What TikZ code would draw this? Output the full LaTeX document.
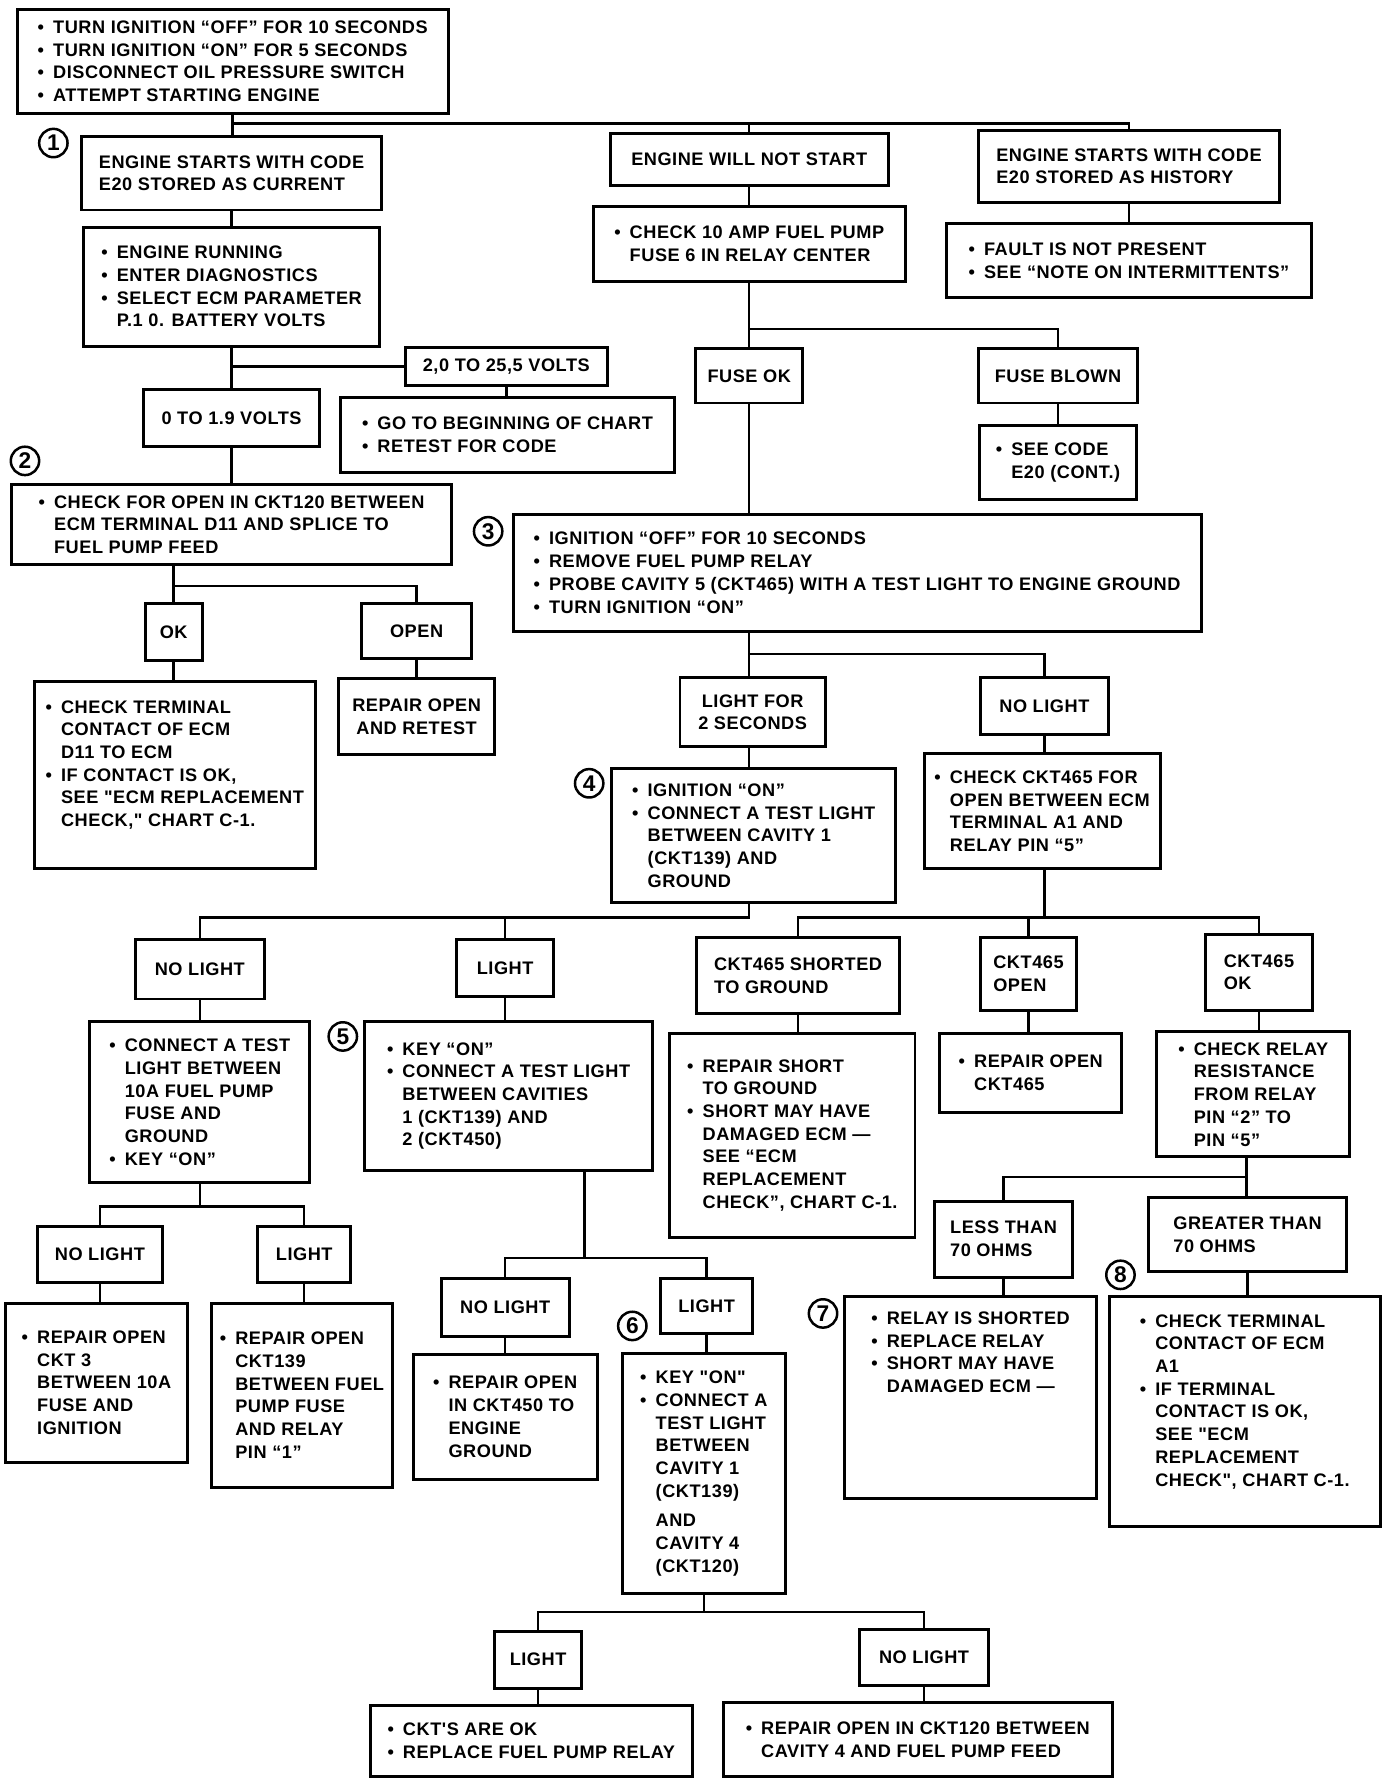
\documentclass[tikz,border=0pt]{standalone}
\usepackage{fontspec}
\setmainfont{Liberation Sans}
\newfontfamily\chartfont{Liberation Sans}[LetterSpace=3]
\usetikzlibrary{positioning}
\newcommand{\bul}{\textbullet\hspace{4pt}}
\newcommand{\ind}{\hphantom{\textbullet}\hspace{4pt}}
\tikzset{
  box/.style={draw, line width=1.3pt, align=left, inner sep=2pt, font=\fontsize{8}{10}\selectfont\chartfont\bfseries},
  cbox/.style={box, align=center},
  link/.style={line width=1.1pt},
  stepno/.style={circle, draw, line width=1.1pt, inner sep=0pt, minimum size=12.5pt, font=\fontsize{10}{10}\selectfont\bfseries}
}

\begin{document}
\begin{tikzpicture}[x=0.5pt, y=-0.5pt]
    \useasboundingbox (0,0) rectangle (1226,1568);
    % first tests
    \node[box, minimum width=190pt, minimum height=46pt] (start) at (205,54) {\bul TURN IGNITION “OFF” FOR 10 SECONDS\\ \bul TURN IGNITION “ON” FOR 5 SECONDS\\ \bul DISCONNECT OIL PRESSURE SWITCH\\ \bul ATTEMPT STARTING ENGINE};
    \node[box, minimum width=132pt, minimum height=32.5pt] (current) at (204,152.5) {ENGINE STARTS WITH CODE\\E20 STORED AS CURRENT};
    \node[box, minimum width=122.5pt, minimum height=22.5pt] (nostart) at (660,140.5) {ENGINE WILL NOT START};
    \node[box, minimum width=132.5pt, minimum height=31.5pt] (history) at (994.5,146.5) {ENGINE STARTS WITH CODE\\E20 STORED AS HISTORY};
    \node[box, minimum width=130.5pt, minimum height=52.5pt] (running) at (204,252.5) {\bul ENGINE RUNNING\\ \bul ENTER DIAGNOSTICS\\ \bul SELECT ECM PARAMETER\\ \ind P.1 0. BATTERY VOLTS};
    \node[box, minimum width=137.5pt, minimum height=33pt] (fusechk) at (660,215) {\bul CHECK 10 AMP FUEL PUMP\\ \ind FUSE 6 IN RELAY CENTER};
    \node[box, minimum width=160.5pt, minimum height=32.5pt] (nofault) at (994.5,229.5) {\bul FAULT IS NOT PRESENT\\ \bul SEE “NOTE ON INTERMITTENTS”};
    % battery volts
    \node[box, minimum width=89pt, minimum height=17pt] (highv) at (446,323) {2,0 TO 25,5 VOLTS};
    \node[box, minimum width=77.5pt, minimum height=25pt] (lowv) at (204,368) {0 TO 1.9 VOLTS};
    \node[box, minimum width=147pt, minimum height=33pt] (retest) at (447,383) {\bul GO TO BEGINNING OF CHART\\ \bul RETEST FOR CODE};
    \node[box, minimum width=194pt, minimum height=35pt] (ckt120) at (204,462) {\bul CHECK FOR OPEN IN CKT120 BETWEEN\\ \ind ECM TERMINAL D11 AND SPLICE TO\\ \ind FUEL PUMP FEED};
    \node[cbox, minimum width=25pt, minimum height=25pt] (okA) at (153,557) {OK};
    \node[cbox, minimum width=48.5pt, minimum height=24pt] (openA) at (367,556) {OPEN};
    \node[box, minimum width=124pt, minimum height=82.5pt] (termchk) at (154,682.5) {\bul CHECK TERMINAL\\ \ind CONTACT OF ECM\\ \ind D11 TO ECM\\ \bul IF CONTACT IS OK,\\ \ind SEE "ECM REPLACEMENT\\ \ind CHECK," CHART C-1.\\ \mbox{}};
    \node[cbox, minimum width=68.5pt, minimum height=33.5pt] (repairA) at (367,631.5) {REPAIR OPEN\\AND RETEST};
    % fuse
    \node[cbox, minimum width=47pt, minimum height=24pt] (fuseok) at (660,331) {FUSE OK};
    \node[cbox, minimum width=70pt, minimum height=24pt] (blown) at (932,331) {FUSE BLOWN};
    \node[box, minimum width=69.5pt, minimum height=32.5pt] (seecode) at (932,407.5) {\bul SEE CODE\\ \ind E20 (CONT.)};
    \node[box, minimum width=303pt, minimum height=51.5pt] (relay) at (755,504.5) {\bul IGNITION “OFF” FOR 10 SECONDS\\ \bul REMOVE FUEL PUMP RELAY\\ \bul PROBE CAVITY 5 (CKT465) WITH A TEST LIGHT TO ENGINE GROUND\\ \bul TURN IGNITION “ON”};
    \node[cbox, minimum width=64pt, minimum height=30.5pt] (light2s) at (663,627.5) {LIGHT FOR\\2 SECONDS};
    \node[cbox, minimum width=56.5pt, minimum height=25pt] (nolightA) at (920,622) {NO LIGHT};
    \node[box, minimum width=125pt, minimum height=59pt] (cav1) at (664,736) {\bul IGNITION “ON”\\ \bul CONNECT A TEST LIGHT\\ \ind BETWEEN CAVITY 1\\ \ind (CKT139) AND\\ \ind GROUND};
    \node[box, minimum width=104pt, minimum height=50.5pt] (ckt465) at (918,714.5) {\bul CHECK CKT465 FOR\\ \ind OPEN BETWEEN ECM\\ \ind TERMINAL A1 AND\\ \ind RELAY PIN “5”};
    % third row
    \node[cbox, minimum width=57pt, minimum height=26pt] (nolightB) at (176,854) {NO LIGHT};
    \node[cbox, minimum width=42.5pt, minimum height=25pt] (lightB) at (445,853) {LIGHT};
    \node[box, minimum width=89.5pt, minimum height=33.5pt] (shorted) at (703,859.5) {CKT465 SHORTED\\TO GROUND};
    \node[box, minimum width=42pt, minimum height=32pt] (open465) at (906,858) {CKT465\\OPEN};
    \node[box, minimum width=47pt, minimum height=33.5pt] (ok465) at (1109,856.5) {CKT465\\OK};
    \node[box, minimum width=97pt, minimum height=71pt] (fusegnd) at (176,971) {\bul CONNECT A TEST\\ \ind LIGHT BETWEEN\\ \ind 10A FUEL PUMP\\ \ind FUSE AND\\ \ind GROUND\\ \bul KEY “ON”};
    \node[box, minimum width=127pt, minimum height=65.5pt] (cav12) at (448,965.5) {\bul KEY “ON”\\ \bul CONNECT A TEST LIGHT\\ \ind BETWEEN CAVITIES\\ \ind 1 (CKT139) AND\\ \ind 2 (CKT450)};
    \node[box, minimum width=108pt, minimum height=90pt] (repshort) at (698,1000) {\bul REPAIR SHORT\\ \ind TO GROUND\\ \bul SHORT MAY HAVE\\ \ind DAMAGED ECM —\\ \ind SEE “ECM\\ \ind REPLACEMENT\\ \ind CHECK”, CHART C-1.};
    \node[box, minimum width=80pt, minimum height=35pt] (rep465) at (908,945) {\bul REPAIR OPEN\\ \ind CKT465};
    \node[box, minimum width=85pt, minimum height=55pt] (relres) at (1104,964) {\bul CHECK RELAY\\ \ind RESISTANCE\\ \ind FROM RELAY\\ \ind PIN “2” TO\\ \ind PIN “5”};
    % fourth row
    \node[cbox, minimum width=55pt, minimum height=25pt] (nolightC) at (88,1105) {NO LIGHT};
    \node[cbox, minimum width=41pt, minimum height=25pt] (lightC) at (268,1105) {LIGHT};
    \node[box, minimum width=80pt, minimum height=70pt] (rep3) at (85,1218) {\bul REPAIR OPEN\\ \ind CKT 3\\ \ind BETWEEN 10A\\ \ind FUSE AND\\ \ind IGNITION};
    \node[box, minimum width=80pt, minimum height=81pt] (rep139) at (266,1229) {\bul REPAIR OPEN\\ \ind CKT139\\ \ind BETWEEN FUEL\\ \ind PUMP FUSE\\ \ind AND RELAY\\ \ind PIN “1”};
    \node[cbox, minimum width=56.5pt, minimum height=25.5pt] (nolightD) at (445,1151.5) {NO LIGHT};
    \node[cbox, minimum width=40.5pt, minimum height=24.5pt] (lightD) at (622.5,1150.5) {LIGHT};
    \node[box, minimum width=81pt, minimum height=55pt] (rep450) at (445,1248) {\bul REPAIR OPEN\\ \ind IN CKT450 TO\\ \ind ENGINE\\ \ind GROUND};
    \node[box, minimum width=72pt, minimum height=106pt] (cav14) at (620,1298) {\bul KEY "ON"\\ \bul CONNECT A\\ \ind TEST LIGHT\\ \ind BETWEEN\\ \ind CAVITY 1\\ \ind (CKT139)\\[3pt] \ind AND\\ \ind CAVITY 4\\ \ind (CKT120)};
    \node[cbox, minimum width=38pt, minimum height=25pt] (lightE) at (474,1462) {LIGHT};
    \node[cbox, minimum width=56.5pt, minimum height=25pt] (nolightE) at (814,1460) {NO LIGHT};
    \node[box, minimum width=142pt, minimum height=31.5pt] (replace) at (468,1533.5) {\bul CKT'S ARE OK\\ \bul REPLACE FUEL PUMP RELAY};
    \node[box, minimum width=171.5pt, minimum height=32.5pt] (rep120) at (808.5,1532.5) {\bul REPAIR OPEN IN CKT120 BETWEEN\\ \ind CAVITY 4 AND FUEL PUMP FEED};
    \node[box, minimum width=61pt, minimum height=33.5pt] (less70) at (884,1091.5) {LESS THAN\\70 OHMS};
    \node[box, minimum width=87pt, minimum height=32.5pt] (more70) at (1099,1087.5) {GREATER THAN\\70 OHMS};
    \node[box, minimum width=111pt, minimum height=89pt] (shortrel) at (855,1231) {\bul RELAY IS SHORTED\\ \bul REPLACE RELAY\\ \bul SHORT MAY HAVE\\ \ind DAMAGED ECM —\\ \mbox{}\\ \mbox{}\\ \mbox{}\\ \mbox{}};
    \node[box, minimum width=119.5pt, minimum height=101.5pt] (termA1) at (1096.5,1243.5) {\bul CHECK TERMINAL\\ \ind CONTACT OF ECM\\ \ind A1\\ \bul IF TERMINAL\\ \ind CONTACT IS OK,\\ \ind SEE "ECM\\ \ind REPLACEMENT\\ \ind CHECK", CHART C-1.\\ \mbox{}};
    % step numbers
    \node[stepno] (s1) at (47,126) {1};
    \node[stepno] (s2) at (22,406) {2};
    \node[stepno] (s3) at (430,468) {3};
    \node[stepno] (s4) at (519,690) {4};
    \node[stepno] (s5) at (302,913) {5};
    \node[stepno] (s6) at (557,1168) {6};
    \node[stepno] (s7) at (725,1157) {7};
    \node[stepno] (s8) at (987,1123) {8};
    % connectors
    \coordinate (t1) at (205,109);
    \draw[link] (start.south) -- (start.south |- current.north);
    \draw[link] (t1) -| (history.north);
    \draw[link] (nostart.north) -- (nostart.north |- t1);
    \draw[link] (current.south) -- (current.south |- running.north);
    \draw[link] (nostart.south) -- (nostart.south |- fusechk.north);
    \draw[link] (history.south) -- (history.south |- nofault.north);
    \draw[link] (running.south) -- (running.south |- lowv.north);
    \draw[link] (running.south |- highv.west) -- (highv.west);
    \draw[link] (highv.south) -- (highv.south |- retest.north);
    \draw[link] (lowv.south) -- (lowv.south |- ckt120.north);
    \coordinate (t2) at (153,516);
    \draw[link] (okA.north |- ckt120.south) -- (okA.north);
    \draw[link] (t2) -| (openA.north);
    \draw[link] (okA.south) -- (okA.south |- termchk.north);
    \draw[link] (openA.south) -- (openA.south |- repairA.north);
    \coordinate (t3) at (660,290);
    \draw[link] (fusechk.south) -- (fusechk.south |- fuseok.north);
    \draw[link] (t3) -| (blown.north);
    \draw[link] (blown.south) -- (blown.south |- seecode.north);
    \draw[link] (fuseok.south) -- (fuseok.south |- relay.north);
    \coordinate (t4) at (660,576);
    \draw[link] (t4 |- relay.south) -- (t4 |- light2s.north);
    \draw[link] (t4) -| (nolightA.north);
    \draw[link] (t4 |- light2s.south) -- (t4 |- cav1.north);
    \draw[link] (nolightA.south) -- (nolightA.south |- ckt465.north);
    \coordinate (t5) at (660,808);
    \draw[link] (t5 |- cav1.south) -- (t5) -| (nolightB.north);
    \draw[link] (lightB.north) -- (lightB.north |- t5);
    \coordinate (t6) at (920,808);
    \draw[link] (t6 |- ckt465.south) -- (t6);
    \draw[link] (shorted.north) |- (t6) -| (ok465.north);
    \draw[link] (open465.north) -- (open465.north |- t6);
    \draw[link] (nolightB.south) -- (nolightB.south |- fusegnd.north);
    \draw[link] (lightB.south) -- (lightB.south |- cav12.north);
    \draw[link] (shorted.south) -- (shorted.south |- repshort.north);
    \draw[link] (open465.south) -- (open465.south |- rep465.north);
    \draw[link] (ok465.south) -- (ok465.south |- relres.north);
    \coordinate (t7) at (176,1063);
    \draw[link] (fusegnd.south) -- (t7);
    \draw[link] (nolightC.north) |- (t7) -| (lightC.north);
    \draw[link] (nolightC.south) -- (nolightC.south |- rep3.north);
    \draw[link] (lightC.south) -- (lightC.south |- rep139.north);
    \coordinate (t8) at (515,1108);
    \draw[link] (t8 |- cav12.south) -- (t8);
    \draw[link] (nolightD.north) |- (t8) -| (lightD.north);
    \draw[link] (nolightD.south) -- (nolightD.south |- rep450.north);
    \draw[link] (lightD.south) -- (lightD.south |- cav14.north);
    \coordinate (t9) at (620,1420);
    \draw[link] (cav14.south) -- (t9);
    \draw[link] (lightE.north) |- (t9) -| (nolightE.north);
    \draw[link] (lightE.south) -- (lightE.south |- replace.north);
    \draw[link] (nolightE.south) -- (nolightE.south |- rep120.north);
    \coordinate (t10) at (1098,1037);
    \draw[link] (t10 |- relres.south) -- (t10 |- more70.north);
    \draw[link] (less70.north) |- (t10);
    \draw[link] (less70.south) -- (less70.south |- shortrel.north);
    \draw[link] (more70.south) -- (more70.south |- termA1.north);
\end{tikzpicture}
\end{document}
